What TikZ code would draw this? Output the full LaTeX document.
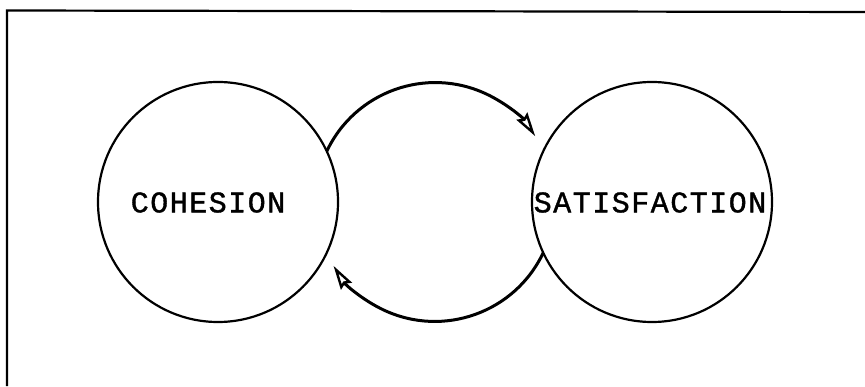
\documentclass[tikz,border=0pt]{standalone}
\usepackage{fontspec}
\usepackage{tikz}
\usetikzlibrary{arrows.meta}
\newfontfamily\lblfont[LetterSpace=5, FakeBold=1.2]{Liberation Mono}

\begin{document}
\begin{tikzpicture}[x=1pt, y=1pt,
        circ/.style={draw, circle, line width=2.2pt, minimum size=240pt,
                     inner sep=0pt, outer sep=0pt},
        lbl/.style={font=\lblfont\fontsize{30}{30}\selectfont, inner sep=0pt},
        flow/.style={line width=3pt,
                     -{Stealth[open, inset=3pt, length=24pt, width=13pt, line width=2.4pt]}}
    ]
    \useasboundingbox (0,0) rectangle (865,386);

    % Frame (only top and left edges show)
    \draw[line width=2.2pt] (7,0) -- (7,375.5) -- (865,374);

    % ---- Circles ----
    \node[circ] (coh) at (218, 184) {};
    \node[circ] (sat) at (652, 184) {};
    \node[lbl] (cohtxt) at (208, 183.5) {COHESION};
    \node[lbl] (sattxt) at (650, 183.5) {SATISFACTION};

    % ---- Feedback arcs ----
    \draw[flow] (coh.25.3) arc[start angle=154.7, end angle=33.6, radius=120pt];
    \draw[flow] (sat.205.3) arc[start angle=-25.3, end angle=-147.5, radius=120pt];
\end{tikzpicture}
\end{document}
